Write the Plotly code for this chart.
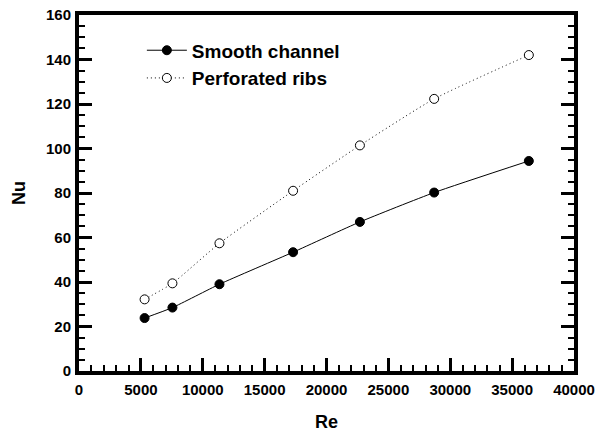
import plotly.graph_objects as go

re_smooth = [5300, 7550, 11350, 17300, 22700, 28700, 36350]
nu_smooth = [23.8, 28.5, 39.0, 53.4, 67.0, 80.2, 94.4]
re_perf = [5300, 7550, 11350, 17300, 22700, 28700, 36350]
nu_perf = [32.2, 39.4, 57.4, 81.0, 101.4, 122.3, 142.0]

x_ticks = [0, 5000, 10000, 15000, 20000, 25000, 30000, 35000, 40000]
y_ticks = [0, 20, 40, 60, 80, 100, 120, 140, 160]

font_family = "Liberation Sans, Arial, sans-serif"

fig = go.Figure()
fig.add_trace(go.Scatter(
    x=re_smooth, y=nu_smooth, mode="lines+markers", name="<b>Smooth channel</b>",
    line=dict(color="black", width=1, shape="spline", smoothing=0.5),
    marker=dict(symbol="circle", size=9, color="black", line=dict(color="black", width=1)),
))
fig.add_trace(go.Scatter(
    x=re_perf, y=nu_perf, mode="lines+markers", name="<b>Perforated ribs</b>",
    line=dict(color="black", width=1, dash="1px,3px", shape="spline", smoothing=0.5),
    marker=dict(symbol="circle", size=9, color="white", line=dict(color="black", width=1)),
))

fig.update_layout(
    width=596, height=432,
    margin=dict(l=79, r=22, t=15, b=61, autoexpand=False),
    paper_bgcolor="white", plot_bgcolor="white",
    font=dict(family=font_family, size=15, color="black"),
    showlegend=True,
    legend=dict(
        x=0.127, y=0.954, xanchor="left", yanchor="top",
        bgcolor="rgba(0,0,0,0)", borderwidth=0,
        font=dict(family=font_family, size=19, color="black"),
        tracegroupgap=0, itemwidth=40,
    ),
)

fig.update_xaxes(
    range=[0, 40000], tickvals=x_ticks, ticktext=["<b>%d</b>" % v for v in x_ticks],
    showgrid=False, zeroline=False, automargin=False,
    showline=True, linecolor="black", linewidth=4, mirror=True,
    ticks="inside", ticklen=13, tickwidth=3, tickcolor="black",
    minor=dict(dtick=1000, ticks="inside", ticklen=6, tickwidth=2, tickcolor="black", showgrid=False),
    tickfont=dict(family=font_family, size=15, color="black"),
    ticklabelstandoff=2,
    title=dict(text="<b>Re</b>", font=dict(family=font_family, size=18, color="black"), standoff=19),
)
fig.update_yaxes(
    range=[0, 160], tickvals=y_ticks, ticktext=["<b>%d</b>" % v for v in y_ticks],
    showgrid=False, zeroline=False, automargin=False,
    showline=True, linecolor="black", linewidth=4, mirror="ticks",
    ticks="inside", ticklen=13, tickwidth=3, tickcolor="black",
    minor=dict(dtick=5, ticks="inside", ticklen=6, tickwidth=2, tickcolor="black", showgrid=False),
    tickfont=dict(family=font_family, size=15, color="black"),
    ticklabelstandoff=1,
    title=dict(text="<b>Nu</b>", font=dict(family=font_family, size=18, color="black"), standoff=17),
)

fig.write_html("out.html")
